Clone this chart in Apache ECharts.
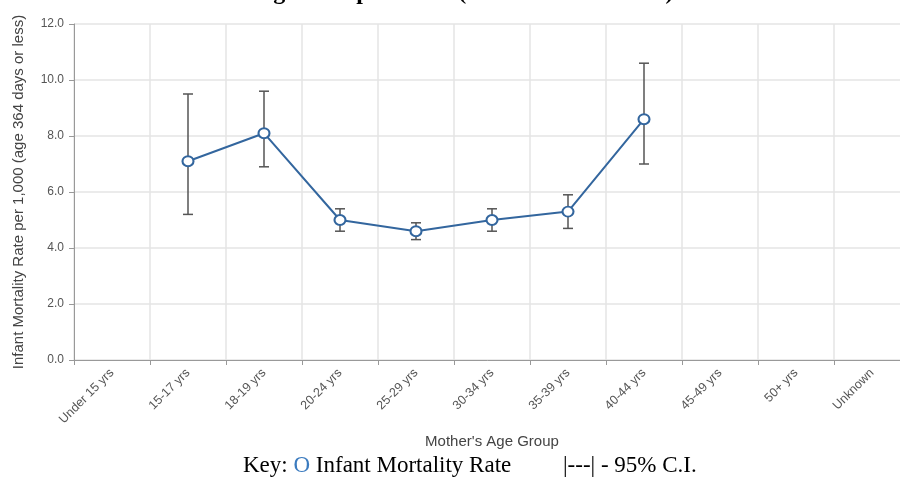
<!DOCTYPE html>
<html>
<head>
<meta charset="utf-8">
<script src="https://cdn.jsdelivr.net/npm/echarts@6/dist/echarts.min.js"></script>
<style>
html,body{margin:0;padding:0;background:#fff;}
#chart{width:900px;height:480px;}
</style>
</head>
<body>
<div id="chart"></div>
<script>
var categories = ['Under 15 yrs','15-17 yrs','18-19 yrs','20-24 yrs','25-29 yrs','30-34 yrs','35-39 yrs','40-44 yrs','45-49 yrs','50+ yrs','Unknown'];
var rates  = [null, 7.1, 8.1, 5.0, 4.6, 5.0, 5.3, 8.6, null, null, null];
var ciLow  = [null, 5.2, 6.9, 4.6, 4.3, 4.6, 4.7, 7.0, null, null, null];
var ciHigh = [null, 9.5, 9.6, 5.4, 4.9, 5.4, 5.9, 10.6, null, null, null];
var titleText = 'Age Group in Utah (IBIS-PH 2009-2017)';
var yAxisName = 'Infant Mortality Rate per 1,000 (age 364 days or less)';
var xAxisName = "Mother's Age Group";

var errData = [];
for (var i = 0; i < categories.length; i++) {
  if (ciLow[i] != null && ciHigh[i] != null) errData.push([i, ciLow[i], ciHigh[i]]);
}

var chart = echarts.init(document.getElementById('chart'), null, {renderer: 'canvas'});
chart.setOption({
  backgroundColor: '#fff',
  animation: false,
  grid: {left: 74, width: 836, top: 24, bottom: 120, containLabel: false, outerBoundsMode: 'none'},
  xAxis: {
    type: 'category',
    data: categories,
    boundaryGap: true,
    name: xAxisName,
    nameLocation: 'middle',
    nameGap: 74,
    nameTextStyle: {fontFamily: 'Liberation Sans, Arial, sans-serif', fontSize: 15, color: '#444'},
    axisLine: {show: true, lineStyle: {color: '#999', width: 1}},
    axisTick: {show: true, alignWithLabel: false, length: 5, lineStyle: {color: '#999'}},
    axisLabel: {rotate: 45, margin: 11, fontSize: 12.5, color: '#555', fontFamily: 'Liberation Sans, Arial, sans-serif', interval: 0},
    splitLine: {show: true, lineStyle: {color: '#e4e4e4', width: 1.5}}
  },
  yAxis: {
    type: 'value',
    min: 0, max: 12, interval: 2,
    name: yAxisName,
    nameLocation: 'middle',
    nameGap: 48,
    nameTextStyle: {fontFamily: 'Liberation Sans, Arial, sans-serif', fontSize: 15, color: '#444'},
    axisLine: {show: true, lineStyle: {color: '#999', width: 1}},
    axisTick: {show: true, length: 5, lineStyle: {color: '#999'}},
    axisLabel: {formatter: function (v) { return v.toFixed(1); }, fontSize: 12, color: '#555', margin: 10, fontFamily: 'Liberation Sans, Arial, sans-serif'},
    splitLine: {show: true, lineStyle: {color: '#e4e4e4', width: 1.5}}
  },
  series: [
    {
      type: 'custom',
      z: 1,
      data: errData,
      renderItem: function (params, api) {
        var x = api.value(0);
        var lo = api.coord([x, api.value(1)]);
        var hi = api.coord([x, api.value(2)]);
        var w = 5;
        var st = {stroke: '#555', lineWidth: 1.5};
        return {
          type: 'group',
          children: [
            {type: 'line', shape: {x1: hi[0], y1: hi[1], x2: lo[0], y2: lo[1]}, style: st},
            {type: 'line', shape: {x1: hi[0] - w, y1: hi[1], x2: hi[0] + w, y2: hi[1]}, style: st},
            {type: 'line', shape: {x1: lo[0] - w, y1: lo[1], x2: lo[0] + w, y2: lo[1]}, style: st}
          ]
        };
      }
    },
    {
      type: 'line',
      z: 3,
      data: rates,
      connectNulls: false,
      symbol: 'emptyCircle',
      symbolSize: [11, 10],
      lineStyle: {color: '#33669e', width: 2},
      itemStyle: {color: '#33669e', borderWidth: 2}
    }
  ],
  graphic: [
    {
      type: 'text',
      left: 256,
      top: -19,
      style: {text: titleText, font: 'bold 24px "Liberation Serif", "Times New Roman", serif', fill: '#000'}
    },
    {
      type: 'text',
      left: 243,
      top: 454,
      style: {
        text: '{k|Key: }{o|O}{k| Infant Mortality Rate         |---| - 95% C.I.}',
        rich: {
          k: {font: '23px "Liberation Serif", "Times New Roman", serif', fill: '#000'},
          o: {font: '23px "Liberation Serif", "Times New Roman", serif', fill: '#3b7bbf'}
        }
      }
    }
  ]
});
</script>
</body>
</html>
